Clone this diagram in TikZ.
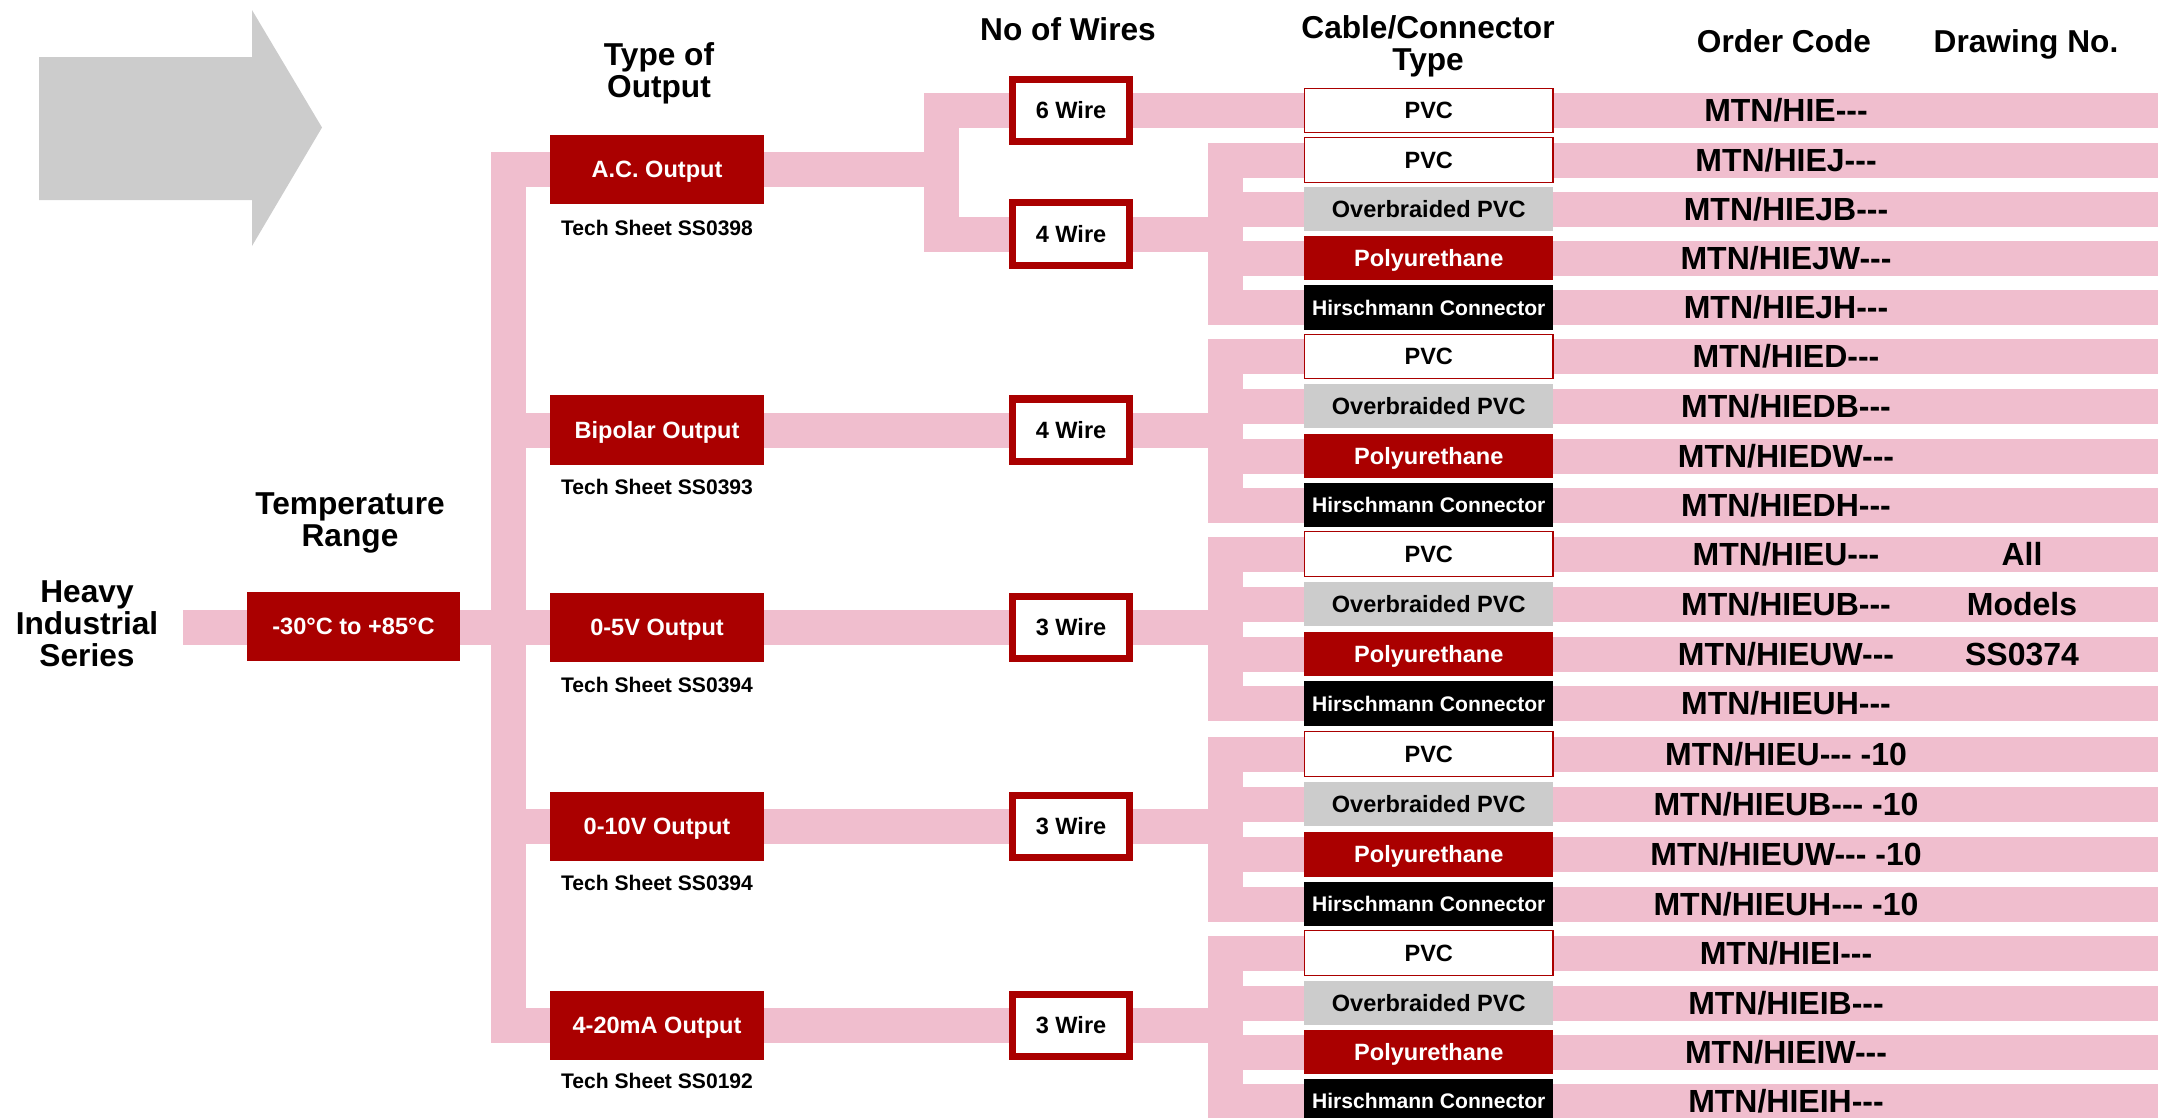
\documentclass[tikz,border=0pt]{standalone}
\usepackage{fontspec}
\setmainfont{Liberation Sans}[Ligatures=TeXOff]
\usetikzlibrary{backgrounds}
\definecolor{bandpink}{RGB}{240,190,206}
\definecolor{boxred}{RGB}{170,0,0}
\definecolor{boxgrey}{RGB}{204,204,204}
\tikzset{
  band/.style={draw=bandpink, line width=0.35cm},
  bar/.style={band, line cap=rect},
  heading/.style={font=\bfseries\fontsize{9}{9.1}\selectfont, align=center, inner sep=0pt},
  outbox/.style={fill=boxred, text=white, minimum width=2.14cm, minimum height=0.69cm, inner sep=0pt,
    font=\bfseries\fontsize{6.7}{8}\selectfont, text height=4.8pt, text depth=0pt},
  wirebox/.style={draw=boxred, line width=0.07cm, fill=white, minimum width=1.17cm, minimum height=0.62cm,
    inner sep=0pt, font=\bfseries\fontsize{6.7}{8}\selectfont, text height=4.8pt, text depth=0pt},
  cable/.style={minimum width=2.485cm, minimum height=0.445cm, inner sep=0pt,
    font=\bfseries\fontsize{6.7}{8}\selectfont, text height=4.8pt, text depth=0pt},
  pvc/.style={cable, draw=boxred, line width=0.012cm, fill=white},
  braid/.style={cable, fill=boxgrey},
  poly/.style={cable, fill=boxred, text=white},
  hirsch/.style={cable, fill=black, text=white, font=\bfseries\fontsize{6}{7}\selectfont, text height=4.3pt},
  code/.style={font=\bfseries\fontsize{9.1}{10}\selectfont, inner sep=0pt, text height=6.5pt, text depth=0pt},
  sheet/.style={anchor=base, inner sep=0pt, font=\bfseries\fontsize{6}{7}\selectfont},
}
\begin{document}
\begin{tikzpicture}[x=0.01cm, y=-0.01cm]
\useasboundingbox (0,0) rectangle (2167,1117);

% grey arrow
\fill[boxgrey] (39,57) -- (252,57) -- (252,10) -- (322,127.5) -- (252,246) -- (252,200) -- (39,200) -- cycle;

% headings
\node[heading] (hdtype) at (659,73) {Type of\\Output};
\node[heading, anchor=base] (hdwire) at (1068,40) {No of Wires};
\node[heading] (hdcable) at (1428,46) {Cable/Connector\\Type};
\node[heading, anchor=base] (hdcode) at (1784,52) {Order Code};
\node[heading, anchor=base] (hddraw) at (2026,52) {Drawing No.};
\node[heading] (hdtemp) at (350,523) {Temperature\\Range};
\node[heading] (series) at (87,624) {Heavy\\Industrial\\Series};

\coordinate (feed) at (183,627);
\coordinate (bus) at (508.5,0);
\coordinate (fork) at (941,0);
\coordinate (grp) at (1225.5,0);
\coordinate (rim) at (2158,0);

% temperature and outputs
\node[outbox, minimum width=2.13cm] (temp) at (353.5,626) {-30°C to +85°C};
\node[outbox] (ac) at (657,169.5) {A.C. Output};
\node[outbox] (bip) at (657,430) {Bipolar Output};
\node[outbox] (v5) at (657,627) {0-5V Output};
\node[outbox] (v10) at (657,826) {0-10V Output};
\node[outbox] (ma) at (657,1025) {4-20mA Output};
\node[sheet] (acsh) at (657,235) {Tech Sheet SS0398};
\node[sheet] (bipsh) at (657,494) {Tech Sheet SS0393};
\node[sheet] (v5sh) at (657,692) {Tech Sheet SS0394};
\node[sheet] (v10sh) at (657,890) {Tech Sheet SS0394};
\node[sheet] (mash) at (657,1088) {Tech Sheet SS0192};

% wires
\node[wirebox] (w6) at (1071,110.5) {6 Wire};
\node[wirebox] (w4a) at (1071,234) {4 Wire};
\node[wirebox] (w4b) at (1071,430) {4 Wire};
\node[wirebox] (w3a) at (1071,627) {3 Wire};
\node[wirebox] (w3b) at (1071,826) {3 Wire};
\node[wirebox] (w3c) at (1071,1025) {3 Wire};

% cables
\node[pvc] (c0) at (1428.75,110.5) {PVC};
\node[pvc] (c1) at (1428.75,160) {PVC};
\node[braid] (c2) at (1428.75,209) {Overbraided PVC};
\node[poly] (c3) at (1428.75,258) {Polyurethane};
\node[hirsch] (c4) at (1428.75,307.5) {Hirschmann Connector};
\node[pvc] (c5) at (1428.75,356.5) {PVC};
\node[braid] (c6) at (1428.75,406) {Overbraided PVC};
\node[poly] (c7) at (1428.75,456) {Polyurethane};
\node[hirsch] (c8) at (1428.75,505) {Hirschmann Connector};
\node[pvc] (c9) at (1428.75,554) {PVC};
\node[braid] (c10) at (1428.75,604) {Overbraided PVC};
\node[poly] (c11) at (1428.75,654) {Polyurethane};
\node[hirsch] (c12) at (1428.75,703.5) {Hirschmann Connector};
\node[pvc] (c13) at (1428.75,754) {PVC};
\node[braid] (c14) at (1428.75,804) {Overbraided PVC};
\node[poly] (c15) at (1428.75,854.5) {Polyurethane};
\node[hirsch] (c16) at (1428.75,904) {Hirschmann Connector};
\node[pvc] (c17) at (1428.75,953) {PVC};
\node[braid] (c18) at (1428.75,1003) {Overbraided PVC};
\node[poly] (c19) at (1428.75,1052) {Polyurethane};
\node[hirsch] (c20) at (1428.75,1101) {Hirschmann Connector};

% order codes
\node[code] (k0) at (1786,110.5) {MTN/HIE---};
\node[code] (k1) at (1786,160) {MTN/HIEJ---};
\node[code] (k2) at (1786,209) {MTN/HIEJB---};
\node[code] (k3) at (1786,258) {MTN/HIEJW---};
\node[code] (k4) at (1786,307.5) {MTN/HIEJH---};
\node[code] (k5) at (1786,356.5) {MTN/HIED---};
\node[code] (k6) at (1786,406) {MTN/HIEDB---};
\node[code] (k7) at (1786,456) {MTN/HIEDW---};
\node[code] (k8) at (1786,505) {MTN/HIEDH---};
\node[code] (k9) at (1786,554) {MTN/HIEU---};
\node[code] (k10) at (1786,604) {MTN/HIEUB---};
\node[code] (k11) at (1786,654) {MTN/HIEUW---};
\node[code] (k12) at (1786,703.5) {MTN/HIEUH---};
\node[code] (k13) at (1786,754) {MTN/HIEU--- -10};
\node[code] (k14) at (1786,804) {MTN/HIEUB--- -10};
\node[code] (k15) at (1786,854.5) {MTN/HIEUW--- -10};
\node[code] (k16) at (1786,904) {MTN/HIEUH--- -10};
\node[code] (k17) at (1786,953) {MTN/HIEI---};
\node[code] (k18) at (1786,1003) {MTN/HIEIB---};
\node[code] (k19) at (1786,1052) {MTN/HIEIW---};
\node[code] (k20) at (1786,1101) {MTN/HIEIH---};
\node[code] (d9) at (2022,554) {All};
\node[code] (d10) at (2022,604) {Models};
\node[code] (d11) at (2022,654) {SS0374};

\begin{pgfonlayer}{background}
\draw[band] (feed) -- (feed -| bus);
\draw[bar] (bus |- ac) -- (bus |- ma);
\draw[band] (bus |- ac) -- (fork |- ac);
\draw[bar] (fork |- w6) -- (fork |- w4a);
\draw[band] (fork |- c0) -- (rim |- c0);
\draw[band] (fork |- w4a) -- (grp |- w4a);
\draw[band] (bus |- bip) -- (grp |- bip);
\draw[band] (bus |- v5) -- (grp |- v5);
\draw[band] (bus |- v10) -- (grp |- v10);
\draw[band] (bus |- ma) -- (grp |- ma);
% cable groups
\draw[bar] (grp |- c1) -- (grp |- c4);
\draw[bar] (grp |- c5) -- (grp |- c8);
\draw[bar] (grp |- c9) -- (grp |- c12);
\draw[bar] (grp |- c13) -- (grp |- c16);
\draw[bar] (grp |- c17) -- (grp |- c20);
\draw[band] (grp |- c1) -- (rim |- c1) (grp |- c2) -- (rim |- c2) (grp |- c3) -- (rim |- c3) (grp |- c4) -- (rim |- c4);
\draw[band] (grp |- c5) -- (rim |- c5) (grp |- c6) -- (rim |- c6) (grp |- c7) -- (rim |- c7) (grp |- c8) -- (rim |- c8);
\draw[band] (grp |- c9) -- (rim |- c9) (grp |- c10) -- (rim |- c10) (grp |- c11) -- (rim |- c11) (grp |- c12) -- (rim |- c12);
\draw[band] (grp |- c13) -- (rim |- c13) (grp |- c14) -- (rim |- c14) (grp |- c15) -- (rim |- c15) (grp |- c16) -- (rim |- c16);
\draw[band] (grp |- c17) -- (rim |- c17) (grp |- c18) -- (rim |- c18) (grp |- c19) -- (rim |- c19) (grp |- c20) -- (rim |- c20);
\end{pgfonlayer}
\end{tikzpicture}
\end{document}
